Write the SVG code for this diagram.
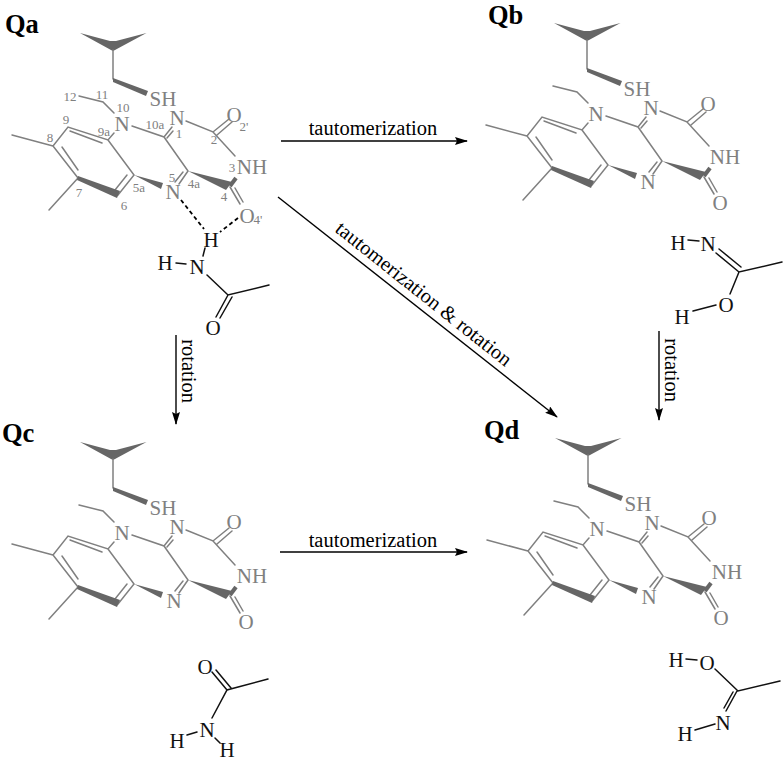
<svg xmlns="http://www.w3.org/2000/svg" xmlns:xlink="http://www.w3.org/1999/xlink" width="784" height="761" viewBox="0 0 784 761">
<style>
text{font-family:"Liberation Serif","Times New Roman",serif}
.bg{fill:#fff}
.b{stroke:#808080;stroke-width:1.5;fill:none;stroke-linecap:round}
.w{fill:#666;stroke:none}
.bb{stroke:#666;stroke-width:4;fill:none}
.g{fill:#808080;font-size:21px;text-anchor:middle}
.n{fill:#808080;font-size:13px;text-anchor:middle}
.k{fill:#111;font-size:21px;text-anchor:middle}
.m{stroke:#111;stroke-width:1.5;fill:none;stroke-linecap:round}
.t{fill:#000;font-size:26.500px;font-weight:bold}
.l{fill:#000;font-size:20.500px;text-anchor:middle}
.c{stroke:#000;stroke-width:1.4;fill:none}
.d{stroke:#000;stroke-width:1.8;fill:none;stroke-dasharray:4 3}
</style>
<defs>
<marker id="ah" markerUnits="userSpaceOnUse" markerWidth="13" markerHeight="8" refX="12" refY="4" orient="auto"><path d="M0 0L13 4L0 8L2 4Z" fill="#000"/></marker>
<g id="sk">
<polygon class="w" points="80,33 110,41 116,41 146.500,33 115,50 113,51 111,50"/>
<path class="b" d="M113 50V79M79 96L103 102L114 113M114 133L108 140L68 127L53 146L78 178M70 131L102 143M62 147L78 170M12 135L53 146M78 178L49 210M118 195L134 175L108 140M127 175L115 190M132 126L164 137L188 171M164 137L172 127M167 138L173 131M186 121L213 132L229 119M217 135L232 122M213 132L235 156M188 171L179 184M183 172L175 182M230 187L240 204M235 188L243 202"/>
<polygon class="w" points="113,78 148,91 146,96 113,82"/>
<polygon class="w" points="78,176 120,191 117,198 77,180"/>
<polygon class="w" points="134,175 163,183 161,189"/>
<polygon class="w" points="188,171 232,182 226,190"/>
<path class="bb" d="M230 186L236 178"/>
</g>
</defs>
<rect class="bg" width="784" height="761"/>
<g id="connectors">
<path class="c" d="M281 141H467" marker-end="url(#ah)"/>
<path class="c" d="M280 552H467" marker-end="url(#ah)"/>
<path class="c" d="M278 197L557 417" marker-end="url(#ah)"/>
<path class="c" d="M176 335V424" marker-end="url(#ah)"/>
<path class="c" d="M659 331V420" marker-end="url(#ah)"/>
<path class="d" d="M181 200L204 229M238 218L220 232"/>
<text class="l" x="373" y="135">tautomerization</text>
<text class="l" x="373" y="547">tautomerization</text>
<text class="l" transform="translate(416.500 303) rotate(38.500)" x="0" y="-5">tautomerization &amp; rotation</text>
<text class="l" transform="translate(178 371) rotate(90)" x="0" y="-4">rotation</text>
<text class="l" transform="translate(661 370) rotate(90)" x="0" y="-4">rotation</text>
</g>
<g id="Qa">
<text class="t" x="5" y="33">Qa</text>
<use xlink:href="#sk" href="#sk"/>
<text class="g" x="163" y="106">SH</text><text class="g" x="122" y="131">N</text><text class="g" x="177" y="125">N</text><text class="g" x="234" y="122">O</text><text class="g" x="252" y="174">NH</text><text class="g" x="173" y="199">N</text><text class="g" x="247" y="223">O</text>
<text class="n" x="70" y="101">12</text><text class="n" x="102" y="99">11</text><text class="n" x="123" y="112">10</text><text class="n" x="66" y="124">9</text><text class="n" x="50" y="142">8</text><text class="n" x="104" y="136">9a</text><text class="n" x="155" y="129">10a</text><text class="n" x="179" y="138">1</text><text class="n" x="214" y="144">2</text><text class="n" x="244" y="131">2'</text><text class="n" x="232" y="172">3</text><text class="n" x="224" y="201">4</text><text class="n" x="258" y="224">4'</text><text class="n" x="194" y="188">4a</text><text class="n" x="172" y="182">5</text><text class="n" x="139" y="192">5a</text><text class="n" x="124" y="210">6</text><text class="n" x="79" y="197">7</text>
</g>
<g id="Qa-amide">
<path class="m" d="M205 248L203 256M176 263L186 264M207 275L228 295L269 285M228 295L216 317M232 297L220 318"/>
<text class="k" x="211" y="247">H</text><text class="k" x="165" y="270">H</text><text class="k" x="197" y="274">N</text><text class="k" x="213" y="335">O</text>
</g>
<g id="Qb">
<text class="t" x="488" y="24">Qb</text>
<use xlink:href="#sk" href="#sk" transform="translate(474 -10)"/>
<text class="g" x="637" y="96">SH</text><text class="g" x="596" y="121">N</text><text class="g" x="651" y="115">N</text><text class="g" x="708" y="111">O</text><text class="g" x="725" y="164">NH</text><text class="g" x="648" y="189">N</text><text class="g" x="720" y="210">O</text>
</g>
<g id="Qb-amide">
<path class="m" d="M688 240L699 241M716 253L739 272L782 262M719 249L741 267M739 272L730 294M693 311L716 305"/>
<text class="k" x="678" y="250">H</text><text class="k" x="708" y="251">N</text><text class="k" x="726" y="312">O</text><text class="k" x="682" y="324">H</text>
</g>
<g id="Qc">
<text class="t" x="2" y="442">Qc</text>
<use xlink:href="#sk" href="#sk" transform="translate(0 409)"/>
<text class="g" x="163" y="515">SH</text><text class="g" x="122" y="540">N</text><text class="g" x="177" y="534">N</text><text class="g" x="234" y="529">O</text><text class="g" x="252" y="583">NH</text><text class="g" x="174" y="608">N</text><text class="g" x="246" y="629">O</text>
</g>
<g id="Qc-amide">
<path class="m" d="M212 718L227 690L268 679M227 690L212 672M231 688L216 670M187 735L197 732M215 738L220 743"/>
<text class="k" x="205" y="674">O</text><text class="k" x="207" y="737">N</text><text class="k" x="177" y="748">H</text><text class="k" x="227" y="757">H</text>
</g>
<g id="Qd">
<text class="t" x="484" y="439">Qd</text>
<use xlink:href="#sk" href="#sk" transform="translate(475 405)"/>
<text class="g" x="638" y="511">SH</text><text class="g" x="597" y="536">N</text><text class="g" x="652" y="530">N</text><text class="g" x="709" y="525">O</text><text class="g" x="727" y="579">NH</text><text class="g" x="649" y="604">N</text><text class="g" x="721" y="625">O</text>
</g>
<g id="Qd-amide">
<path class="m" d="M686 659L697 660M715 669L738 691L780 681M737 691L726 711M733 692L724 708M695 730L715 724"/>
<text class="k" x="676" y="667">H</text><text class="k" x="707" y="670">O</text><text class="k" x="723" y="730">N</text><text class="k" x="685" y="741">H</text>
</g>
</svg>
